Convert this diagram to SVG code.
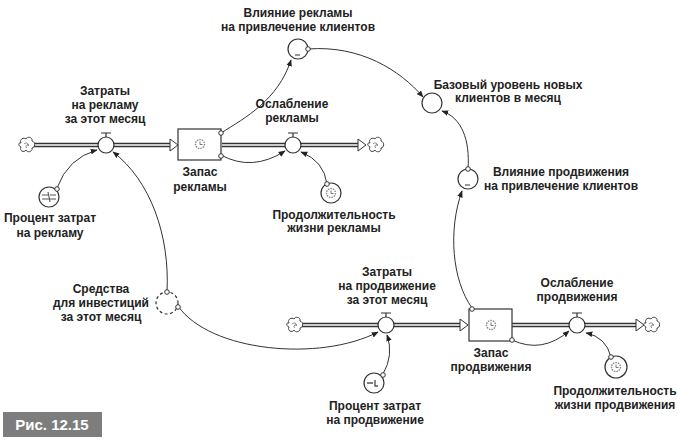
<svg xmlns="http://www.w3.org/2000/svg" width="678" height="440" viewBox="0 0 678 440">
<style>
text{font-family:"Liberation Sans",Arial,sans-serif;font-weight:bold;font-size:12px;fill:#222;text-anchor:middle}
.pipe-o{fill:none;stroke:#333;stroke-width:4.5}
.pipe-i{fill:none;stroke:#fff;stroke-width:1.6}
.node{fill:#fff;stroke:#333;stroke-width:1.2}
.dash{fill:#fff;stroke:#333;stroke-width:1.2;stroke-dasharray:3 2.5}
.link{fill:none;stroke:#333;stroke-width:1;marker-end:url(#ah)}
.dot{fill:#fff;stroke:#333;stroke-width:1}
.ico{fill:none;stroke:#888;stroke-width:1.4}
.cloud{fill:#fff;stroke:#444;stroke-width:1}
.fa{fill:#fff;stroke:#333;stroke-width:1}
</style>
<defs>
<marker id="ah" viewBox="0 0 10 10" refX="9" refY="5" markerWidth="7" markerHeight="7" orient="auto" markerUnits="userSpaceOnUse">
<path d="M0,1 L10,5 L0,9 Z" fill="#222"/>
</marker>
<g id="cl">
<path class="cloud" d="M-6,-2 C-8,-6 -3,-8 -1,-6 C0,-9 6,-8 5,-4 C9,-3 8,3 5,3 C6,7 0,8 -1,5 C-3,8 -8,6 -6,2 C-9,1 -9,-3 -6,-2 Z"/>
<path d="M-3,-1 C-1,-3 2,-2 1,1 M0,3 C-2,2 -1,-1 2,0" fill="none" stroke="#666" stroke-width="0.8"/>
</g>
<g id="vt"><path d="M0,-8 V-12 M-5,-12 H5" stroke="#333" stroke-width="1.2" fill="none"/></g>
<g id="gear"><circle r="4.5" class="ico" stroke-dasharray="1.5 1"/><path d="M0,-2.5 V0.5 H2.5" fill="none" stroke="#777" stroke-width="1"/></g>
</defs>

<g id="connectors">
<path class="pipe-o" d="M33,145 H170"/><path class="pipe-i" d="M33,145 H170"/>
<path class="pipe-o" d="M222,145 H358"/><path class="pipe-i" d="M222,145 H358"/>
<path class="pipe-o" d="M302,325 H460"/><path class="pipe-i" d="M302,325 H460"/>
<path class="pipe-o" d="M512,325 H636"/><path class="pipe-i" d="M512,325 H636"/>
<path class="fa" d="M170,139 L178,145 L170,151 Z"/>
<path class="fa" d="M358,139 L366,145 L358,151 Z"/>
<path class="fa" d="M460,319 L468,325 L460,331 Z"/>
<path class="fa" d="M636,319 L644,325 L636,331 Z"/>
<path class="link" d="M57,188 Q68,158 97,150"/>
<path class="link" d="M167,292 C170,235 150,180 113,152"/>
<path class="link" d="M221,133 C245,118 278,100 291,60"/>
<path class="link" d="M221,155 Q252,172 285,151"/>
<path class="link" d="M327,184 Q324,161 301,152"/>
<path class="link" d="M308,49 C360,45 400,70 423,97"/>
<path class="link" d="M468,169 C470,140 462,118 442,111"/>
<path class="link" d="M472,308 C452,280 448,230 462,191"/>
<path class="link" d="M178,306 C210,352 320,362 378,332"/>
<path class="link" d="M383,374 Q394,355 387,335"/>
<path class="link" d="M512,340 Q542,354 569,331"/>
<path class="link" d="M611,357 Q606,337 586,333"/>
</g>

<g id="cloud-top-left"><use href="#cl" x="27" y="145"/></g>
<g id="cloud-top-right"><use href="#cl" x="376" y="145"/></g>
<g id="cloud-bottom-left"><use href="#cl" x="295" y="325"/></g>
<g id="cloud-bottom-right"><use href="#cl" x="652" y="325"/></g>

<g id="zatraty-reklama">
<circle class="node" cx="106" cy="145" r="8"/><use href="#vt" x="106" y="145"/>
<text x="105" y="95">Затраты</text><text x="105" y="109">на рекламу</text><text x="105" y="123">за этот месяц</text>
</g>

<g id="procent-reklama">
<circle class="node" cx="49" cy="197" r="10"/>
<path d="M42,195 H48 M50,195 H56 M42,199 H56 M48,192 L50,202" stroke="#555" stroke-width="1.1" fill="none"/>
<circle class="dot" cx="57" cy="189" r="2.3"/>
<text x="50" y="222">Процент затрат</text><text x="50" y="237">на рекламу</text>
</g>

<g id="zapas-reklamy">
<rect class="node" x="178" y="129" width="43" height="31"/>
<use href="#gear" x="200" y="144"/>
<circle class="dot" cx="221" cy="133" r="2.3"/><circle class="dot" cx="221" cy="156" r="2.3"/>
<text x="200" y="176">Запас</text><text x="200" y="191">рекламы</text>
</g>

<g id="oslablenie-reklamy">
<circle class="node" cx="293" cy="145" r="8"/><use href="#vt" x="293" y="145"/>
<text x="292" y="108">Ослабление</text><text x="292" y="122">рекламы</text>
</g>

<g id="prodolzh-reklamy">
<circle class="node" cx="331" cy="193" r="10"/><use href="#gear" x="331" y="193"/>
<circle class="dot" cx="327" cy="184" r="2.3"/>
<text x="334" y="219">Продолжительность</text><text x="334" y="232">жизни рекламы</text>
</g>

<g id="vliyanie-reklamy">
<circle class="node" cx="298" cy="49" r="10"/><path d="M295,55 H300" stroke="#333" stroke-width="1"/>
<circle class="dot" cx="308" cy="49" r="2.3"/>
<text x="298" y="17">Влияние рекламы</text><text x="298" y="31">на привлечение клиентов</text>
</g>

<g id="bazovyi">
<circle class="node" cx="432" cy="103" r="10"/>
<text x="508" y="89">Базовый уровень новых</text><text x="508" y="102">клиентов в месяц</text>
</g>

<g id="vliyanie-prodvizheniya">
<circle class="node" cx="468" cy="179" r="10"/><path d="M465,185 H470" stroke="#333" stroke-width="1"/>
<circle class="dot" cx="468" cy="169" r="2.3"/>
<text x="561" y="176">Влияние продвижения</text><text x="561" y="190">на привлечение клиентов</text>
</g>

<g id="sredstva">
<circle class="dash" cx="167" cy="303" r="11"/>
<circle class="dot" cx="167" cy="292" r="2.3"/><circle class="dot" cx="178" cy="307" r="2.3"/>
<text x="101" y="293">Средства</text><text x="101" y="307">для инвестиций</text><text x="101" y="321">за этот месяц</text>
</g>

<g id="zatraty-prodvizhenie">
<circle class="node" cx="386" cy="325" r="8"/><use href="#vt" x="386" y="325"/>
<text x="387" y="276">Затраты</text><text x="387" y="290">на продвижение</text><text x="387" y="304">за этот месяц</text>
</g>

<g id="procent-prodvizhenie">
<circle class="node" cx="374" cy="383" r="10"/>
<path d="M367,383 H373 M375,380 V386 H378" stroke="#555" stroke-width="1.4" fill="none"/>
<circle class="dot" cx="383" cy="375" r="2.3"/>
<text x="375" y="410">Процент затрат</text><text x="375" y="424">на продвижение</text>
</g>

<g id="zapas-prodvizheniya">
<rect class="node" x="469" y="309" width="43" height="32"/>
<use href="#gear" x="491" y="325"/>
<circle class="dot" cx="472" cy="309" r="2.3"/><circle class="dot" cx="512" cy="340" r="2.3"/>
<text x="491" y="357">Запас</text><text x="491" y="371">продвижения</text>
</g>

<g id="oslablenie-prodvizheniya">
<circle class="node" cx="577" cy="325" r="8"/><use href="#vt" x="577" y="325"/>
<text x="577" y="287">Ослабление</text><text x="577" y="301">продвижения</text>
</g>

<g id="prodolzh-prodvizheniya">
<circle class="node" cx="616" cy="367" r="11"/><use href="#gear" x="616" y="367"/>
<circle class="dot" cx="611" cy="357" r="2.3"/>
<text x="615" y="395">Продолжительность</text><text x="615" y="409">жизни продвижения</text>
</g>

<g id="caption">
<rect x="3" y="412" width="99" height="25" fill="#7d7d7d"/>
<text x="52" y="430" style="fill:#fff;font-size:15px">Рис. 12.15</text>
</g>
</svg>
